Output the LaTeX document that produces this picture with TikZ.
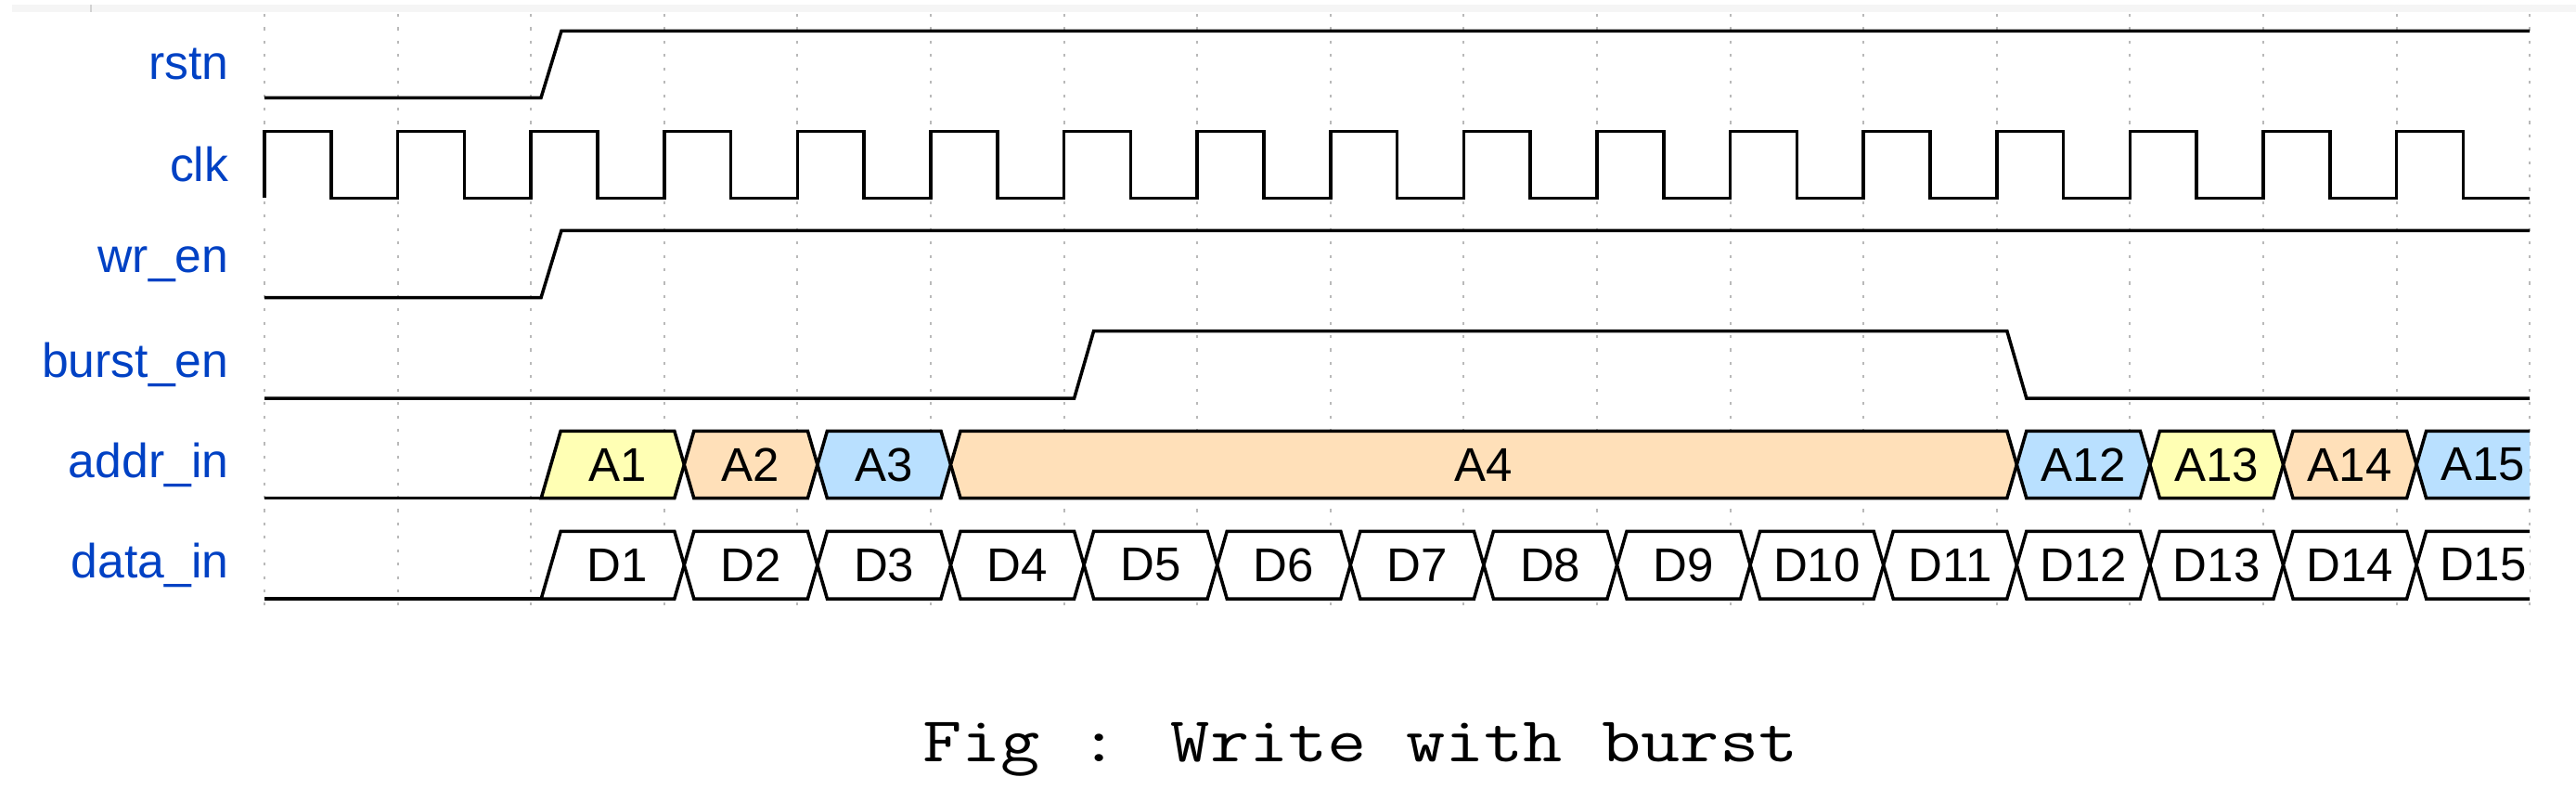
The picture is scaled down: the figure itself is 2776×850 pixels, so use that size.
\documentclass[tikz,border=0pt]{standalone}
\usepackage{fontspec}
\setmainfont{Liberation Sans}
\newfontfamily\capfont[FakeStretch=1.19]{Latin Modern Mono}
\definecolor{wyel}{HTML}{FFFFB4}
\definecolor{wora}{HTML}{FFE0B9}
\definecolor{wblu}{HTML}{B9E0FF}
\definecolor{wname}{HTML}{0041C4}
\tikzset{
  sig/.style={draw=black, line width=1pt, line join=miter},
  gridline/.style={draw=gray!55, line width=0.6pt, dash pattern=on 0.9pt off 3.2pt},
  sname/.style={anchor=east, inner sep=0pt, text=wname, font=\fontsize{14.7}{17}\selectfont},
  dtext/.style={inner sep=0pt, text=black, font=\fontsize{14.5}{17}\selectfont},
}
% inner data segment: k1, k2, colour, label, top, bottom
\newcommand\wseg[6]{%
  \pgfmathsetmacro\xa{285+143.6*#1}%
  \pgfmathsetmacro\xb{285+143.6*#2}%
  \pgfmathsetmacro\ym{(#5+#6)/2}%
  \filldraw[sig, fill=#3] (\xa+32,#5) -- (\xb+11,#5) -- (\xb+21.5,\ym) -- (\xb+11,#6) -- (\xa+32,#6) -- (\xa+21.5,\ym) -- cycle;
  \node[dtext] (t#4) at ({(\xa+\xb)/2+21.5},\ym) {#4};
}
% first segment (rising from low)
\newcommand\wfirst[6]{%
  \pgfmathsetmacro\xa{285+143.6*#1}%
  \pgfmathsetmacro\xb{285+143.6*#2}%
  \pgfmathsetmacro\ym{(#5+#6)/2}%
  \draw[sig] (285,#6) -- (\xa+11,#6);
  \filldraw[sig, fill=#3] (\xa+11,#6) -- (\xa+32,#5) -- (\xb+11,#5) -- (\xb+21.5,\ym) -- (\xb+11,#6) -- cycle;
  \node[dtext] (t#4) at ({(\xa+\xb)/2+21.5},\ym) {#4};
}
% last segment (open at right end)
\newcommand\wlast[6]{%
  \pgfmathsetmacro\xa{285+143.6*#1}%
  \pgfmathsetmacro\ym{(#5+#6)/2}%
  \fill[#3] (\xa+21.5,\ym) -- (\xa+32,#5) -- (2726,#5) -- (2726,#6) -- (\xa+32,#6) -- cycle;
  \draw[sig] (2726,#5) -- (\xa+32,#5) -- (\xa+21.5,\ym) -- (\xa+32,#6) -- (2726,#6);
  \node[dtext] (t#4) at ({\xa+21.5+71.8},\ym) {#4};
}
\begin{document}
\begin{tikzpicture}[x=0.01cm, y=-0.01cm]
\useasboundingbox (0,0) rectangle (2776,850);
% top band
\fill[gray!8] (13,5) rectangle (2776,13);
\draw[gray!35, line width=0.6pt] (98,5) -- (98,13);
% grid
\foreach \k in {0,...,17} {
  \draw[gridline] ({285+143.6*\k},15) -- ({285+143.6*\k},652);
}
% names
\node[sname] (nrstn)  at (247,69.3)  {rstn};
\node[sname] (nclk)   at (247,177.5) {clk};
\node[sname] (nwr)    at (247,284.5) {wr\_en};
\node[sname] (nburst) at (247,392.7) {burst\_en};
\node[sname] (naddr)  at (247,500.5) {addr\_in};
\node[sname] (ndata)  at (247,608.6) {data\_in};
% rstn
\draw[sig] (285,105.3) -- (583,105.3) -- (605,33.3) -- (2726,33.3);
% clk
\draw[sig] (285,213.3) \foreach \k in {0,...,16} {
  -- ({285+143.6*\k},141.7) -- ({285+143.6*\k+71.8},141.7)
  -- ({285+143.6*\k+71.8},213.3) -- ({285+143.6*(\k+1)},213.3) };
% wr_en
\draw[sig] (285,320.7) -- (583,320.7) -- (605,248.3) -- (2726,248.3);
% burst_en
\draw[sig] (285,429) -- (1157.6,429) -- (1178.6,356.5) -- (2162.8,356.5) -- (2183.8,429) -- (2726,429);
% addr_in
\wfirst{2}{3}{wyel}{A1}{464.3}{536.7}
\wseg{3}{4}{wora}{A2}{464.3}{536.7}
\wseg{4}{5}{wblu}{A3}{464.3}{536.7}
\wseg{5}{13}{wora}{A4}{464.3}{536.7}
\wseg{13}{14}{wblu}{A12}{464.3}{536.7}
\wseg{14}{15}{wyel}{A13}{464.3}{536.7}
\wseg{15}{16}{wora}{A14}{464.3}{536.7}
\wlast{16}{17}{wblu}{A15}{464.3}{536.7}
% data_in
\wfirst{2}{3}{white}{D1}{572.3}{645}
\foreach \n [evaluate=\n as \kk using int(\n+1), evaluate=\n as \kn using int(\n+2)] in {2,...,14} {
  \wseg{\kk}{\kn}{white}{D\n}{572.3}{645}
}
\wlast{16}{17}{white}{D15}{572.3}{645}
% caption
\node[anchor=base, inner sep=0pt, font=\capfont\fontsize{19.6}{24}\selectfont] (cap) at (1466,820) {Fig : Write with burst};
\end{tikzpicture}
\end{document}
